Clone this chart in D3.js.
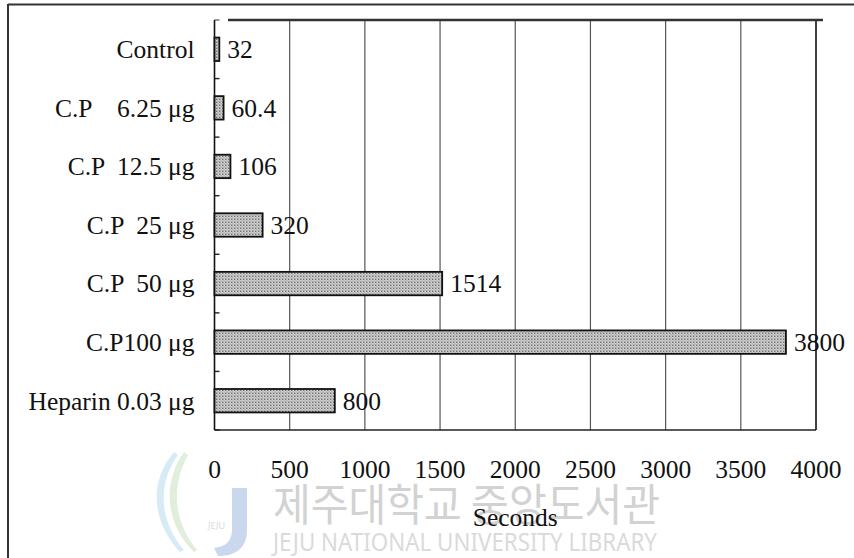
<!DOCTYPE html>
<html>
<head>
<meta charset="utf-8">
<script src="https://cdn.jsdelivr.net/npm/d3@7"></script>
<style>
  html, body { margin: 0; padding: 0; background: #fff; }
  svg { display: block; }
</style>
</head>
<body>
<svg id="chart" width="854" height="558"></svg>
<script>
const categories = ["Control", "C.P    6.25 \u03bcg", "C.P  12.5 \u03bcg", "C.P  25 \u03bcg", "C.P  50 \u03bcg", "C.P100 \u03bcg", "Heparin 0.03 \u03bcg"];
const values = [32, 60.4, 106, 320, 1514, 3800, 800];
const valueLabels = ["32", "60.4", "106", "320", "1514", "3800", "800"];
const xTicks = [0, 500, 1000, 1500, 2000, 2500, 3000, 3500, 4000];
const xTitle = "Seconds";
const watermarkKo = "제주대학교 중앙도서관";
const watermarkEn = "JEJU NATIONAL UNIVERSITY LIBRARY";

const SERIF = "'Liberation Serif', 'Times New Roman', Times, 'DejaVu Serif', serif";
const svg = d3.select("#chart");
const W = 854, H = 558;
const m = { left: 214.5, right: 816, top: 20, bottom: 430 };
const fs = 25.5;

const x = d3.scaleLinear().domain([0, 4000]).range([m.left, m.right]);
const y = d3.scaleBand().domain(categories).range([m.top, m.bottom]).paddingInner(0.6).paddingOuter(0.3);

// pattern for bars
const defs = svg.append("defs");
const pat = defs.append("pattern").attr("id", "hatch").attr("patternUnits", "userSpaceOnUse")
  .attr("width", 3).attr("height", 3);
pat.append("rect").attr("width", 3).attr("height", 3).attr("fill", "#d6d6d6");
pat.append("rect").attr("x", 0).attr("y", 0).attr("width", 1).attr("height", 1).attr("fill", "#6e6e6e");
pat.append("rect").attr("x", 1.5).attr("y", 1.5).attr("width", 1).attr("height", 1).attr("fill", "#6e6e6e");
pat.append("rect").attr("x", 1).attr("y", 0).attr("width", 1).attr("height", 1).attr("fill", "#a8a8a8");
pat.append("rect").attr("x", 0).attr("y", 2).attr("width", 1).attr("height", 1).attr("fill", "#a8a8a8");

// watermark (behind)
const wm = svg.append("g").attr("class", "watermark");
wm.append("path")
  .attr("d", "M174,452 C150,480 150,520 180,552 L184,550 C158,520 158,482 178,455 Z")
  .attr("fill", "#d6ebf5");
wm.append("path")
  .attr("d", "M184,452 C163,482 164,522 194,552 L197,550 C172,520 172,484 188,455 Z")
  .attr("fill", "#e0eedb");
wm.append("path")
  .attr("d", "M232,488 L247,488 L247,530 C247,548 236,556 218,556 L214,548 C228,546 232,540 232,528 Z")
  .attr("fill", "#c9d8ed");
wm.append("text").attr("x", 208).attr("y", 529).attr("font-family", "Noto Sans").attr("font-size", 9)
  .attr("fill", "#dadada").text("JEJU");

wm.append("text")
  .attr("x", 273).attr("y", 521)
  .attr("font-family", "'Noto Sans CJK KR'").attr("font-size", 44).attr("font-weight", 400)
  .attr("fill", "#d2d2d2")
  .attr("textLength", 387).attr("lengthAdjust", "spacingAndGlyphs")
  .text(watermarkKo);
wm.append("text")
  .attr("x", 273).attr("y", 551)
  .attr("font-family", "'Noto Sans'").attr("font-size", 25)
  .attr("fill", "#dadada")
  .attr("textLength", 384).attr("lengthAdjust", "spacingAndGlyphs")
  .text(watermarkEn);

// outer frame
svg.append("line").attr("x1", 8).attr("x2", W).attr("y1", 4.5).attr("y2", 4.5)
  .attr("stroke", "#333").attr("stroke-width", 2);
svg.append("line").attr("x1", 8).attr("x2", 8).attr("y1", 4).attr("y2", H)
  .attr("stroke", "#333").attr("stroke-width", 2);

// gridlines
svg.append("g").selectAll("line").data(xTicks.filter(d => d > 0 && d < 4000)).join("line")
  .attr("x1", d => x(d)).attr("x2", d => x(d))
  .attr("y1", m.top).attr("y2", m.bottom)
  .attr("stroke", "#555").attr("stroke-width", 1.2);

// plot borders
svg.append("line").attr("x1", x(4000)).attr("x2", x(4000)).attr("y1", m.top).attr("y2", m.bottom)
  .attr("stroke", "#111").attr("stroke-width", 1.6);
svg.append("line").attr("x1", m.left + 13.5).attr("x2", x(4000) + 7).attr("y1", m.top).attr("y2", m.top)
  .attr("stroke", "#333").attr("stroke-width", 2.5);
svg.append("line").attr("x1", m.left).attr("x2", m.left + 5).attr("y1", m.top).attr("y2", m.top)
  .attr("stroke", "#999").attr("stroke-width", 2);

// bottom axis line
svg.append("line").attr("x1", m.left).attr("x2", x(4000)).attr("y1", m.bottom).attr("y2", m.bottom)
  .attr("stroke", "#222").attr("stroke-width", 1.6);

// left axis with inner ticks at band boundaries
const boundaries = categories.map(c => y(c) - y.step() * y.paddingInner() / 2).concat([m.bottom]);
svg.append("g").selectAll("line").data(boundaries.slice(1)).join("line")
  .attr("x1", m.left).attr("x2", m.left + 5)
  .attr("y1", d => d).attr("y2", d => d)
  .attr("stroke", "#222").attr("stroke-width", 1.4);
svg.append("line").attr("x1", m.left).attr("x2", m.left).attr("y1", m.top).attr("y2", m.bottom)
  .attr("stroke", "#111").attr("stroke-width", 1.6);

// bars
svg.append("g").selectAll("rect").data(values).join("rect")
  .attr("x", x(0))
  .attr("y", (d, i) => y(categories[i]))
  .attr("width", d => x(d) - x(0))
  .attr("height", y.bandwidth())
  .attr("fill", "url(#hatch)")
  .attr("stroke", "#111").attr("stroke-width", 1.8);

// value labels
svg.append("g").selectAll("text").data(values).join("text")
  .attr("x", d => x(d) + 8)
  .attr("y", (d, i) => y(categories[i]) + y.bandwidth() / 2)
  .attr("dy", "0.35em")
  .attr("font-family", SERIF)
  .attr("font-size", fs).attr("fill", "#111")
  .text((d, i) => valueLabels[i]);

// category labels
svg.append("g").selectAll("text").data(categories).join("text")
  .attr("x", m.left - 20)
  .attr("y", d => y(d) + y.bandwidth() / 2)
  .attr("dy", "0.35em")
  .attr("text-anchor", "end")
  .attr("font-family", SERIF)
  .attr("font-size", fs).attr("fill", "#111")
  .style("white-space", "pre")
  .text(d => d);

// x tick labels
svg.append("g").selectAll("text").data(xTicks).join("text")
  .attr("x", d => x(d))
  .attr("y", 478)
  .attr("text-anchor", "middle")
  .attr("font-family", SERIF)
  .attr("font-size", fs).attr("fill", "#111")
  .text(d => d);

// x title
svg.append("text")
  .attr("x", (m.left + m.right) / 2).attr("y", 526)
  .attr("text-anchor", "middle")
  .attr("font-family", SERIF)
  .attr("font-size", fs).attr("fill", "#111")
  .text(xTitle);
</script>
</body>
</html>
